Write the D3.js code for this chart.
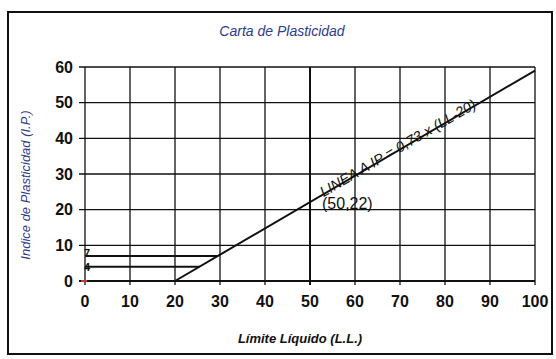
<!DOCTYPE html>
<html>
<head>
<meta charset="utf-8">
<script src="https://cdn.jsdelivr.net/npm/d3@7"></script>
<style>
  body { margin: 0; background: #fff; }
  svg { display: block; font-family: "Liberation Sans", Arial, sans-serif; }
</style>
</head>
<body>
<div id="chart"></div>
<script>
// Chart data
const xTicks = [0, 10, 20, 30, 40, 50, 60, 70, 80, 90, 100];
const yTicks = [0, 10, 20, 30, 40, 50, 60];
const lineA = [[20, 0], [100, 59]];          // IP = 0.73 x (LL - 20)
const limitLines = [[7, 29.6], [4, 25.5]];   // [IP, LL where it meets line A]
const point = [50, 22];

const width = 556, height = 359;
const svg = d3.select('#chart').append('svg')
    .attr('width', width)
    .attr('height', height);

// Outer frame
svg.append('rect')
    .attr('x', 8).attr('y', 12)
    .attr('width', 544).attr('height', 342)
    .attr('fill', 'none')
    .attr('stroke', '#111')
    .attr('stroke-width', 2);

const x = d3.scaleLinear().domain([0, 100]).range([85, 535]);
const y = d3.scaleLinear().domain([0, 60]).range([281, 67]);

// Grid
svg.append('g').selectAll('line')
    .data(xTicks)
    .join('line')
      .attr('x1', d => x(d)).attr('x2', d => x(d))
      .attr('y1', y(60)).attr('y2', y(0) + 4)
      .attr('stroke', '#111')
      .attr('stroke-width', d => d === 50 ? 2 : 1.3);

svg.append('g').selectAll('line')
    .data(yTicks)
    .join('line')
      .attr('x1', x(0) - 6).attr('x2', x(100))
      .attr('y1', d => y(d)).attr('y2', d => y(d))
      .attr('stroke', '#111')
      .attr('stroke-width', d => d === 0 ? 2 : 1.3);

// Tick labels
svg.append('g').selectAll('text')
    .data(xTicks)
    .join('text')
      .attr('x', d => x(d))
      .attr('y', y(0) + 26)
      .attr('text-anchor', 'middle')
      .style('font-size', '16px')
      .style('font-weight', 'bold')
      .attr('fill', '#111')
      .text(d => d);

svg.append('g').selectAll('text')
    .data(yTicks)
    .join('text')
      .attr('x', x(0) - 12)
      .attr('y', d => y(d))
      .attr('dy', '0.35em')
      .attr('text-anchor', 'end')
      .style('font-size', '16px')
      .style('font-weight', 'bold')
      .attr('fill', '#111')
      .text(d => d);

// Line A
const line = d3.line().x(d => x(d[0])).y(d => y(d[1]));
svg.append('path')
    .attr('d', line(lineA))
    .attr('fill', 'none')
    .attr('stroke', '#111')
    .attr('stroke-width', 2);

// Horizontal limit lines at IP = 7 and IP = 4
svg.append('g').selectAll('line')
    .data(limitLines)
    .join('line')
      .attr('x1', x(0)).attr('x2', d => x(d[1]))
      .attr('y1', d => y(d[0])).attr('y2', d => y(d[0]))
      .attr('stroke', '#111')
      .attr('stroke-width', 2);

svg.append('g').selectAll('text')
    .data(limitLines)
    .join('text')
      .attr('x', x(0) - 1)
      .attr('y', (d, i) => y(d[0]) + (i === 0 ? 1 : 4))
      .style('font-size', '11px')
      .style('font-weight', 'bold')
      .attr('fill', '#111')
      .text(d => d[0]);

// Red mark at origin
svg.append('line')
    .attr('x1', x(0) - 4).attr('x2', x(0) + 2)
    .attr('y1', y(0)).attr('y2', y(0))
    .attr('stroke', '#c0392b')
    .attr('stroke-width', 2);

// Line A label, along the line
const slope = (lineA[1][1] - lineA[0][1]) / (lineA[1][0] - lineA[0][0]);
const angle = Math.atan2(y(lineA[1][1]) - y(lineA[0][1]), x(lineA[1][0]) - x(lineA[0][0])) * 180 / Math.PI;
const lx = x(53), ly = y(slope * (53 - lineA[0][0])) + 3;
svg.append('text')
    .attr('transform', `translate(${lx},${ly}) rotate(${angle})`)
    .style('font-size', '14.5px')
    .style('font-style', 'italic')
    .attr('fill', '#111')
    .text('LINEA A IP = 0,73 x (LL-20)');

svg.append('text')
    .attr('x', x(point[0]) + 12)
    .attr('y', y(point[1]) + 6)
    .style('font-size', '16px')
    .attr('fill', '#111')
    .text(`(${point[0]},${point[1]})`);

// Titles
svg.append('text')
    .attr('x', 282).attr('y', 36)
    .attr('text-anchor', 'middle')
    .style('font-size', '14px')
    .style('font-style', 'italic')
    .attr('fill', '#2e3a8c')
    .text('Carta de Plasticidad');

svg.append('text')
    .attr('x', 300).attr('y', 343)
    .attr('text-anchor', 'middle')
    .style('font-size', '13px')
    .style('font-style', 'italic')
    .style('font-weight', 'bold')
    .attr('fill', '#111')
    .text('Límite Líquido (L.L.)');

svg.append('text')
    .attr('transform', 'translate(30,185) rotate(-90)')
    .attr('text-anchor', 'middle')
    .style('font-size', '13px')
    .style('font-style', 'italic')
    .attr('fill', '#2e3a8c')
    .text('Indice de Plasticidad (I.P.)');
</script>
</body>
</html>
